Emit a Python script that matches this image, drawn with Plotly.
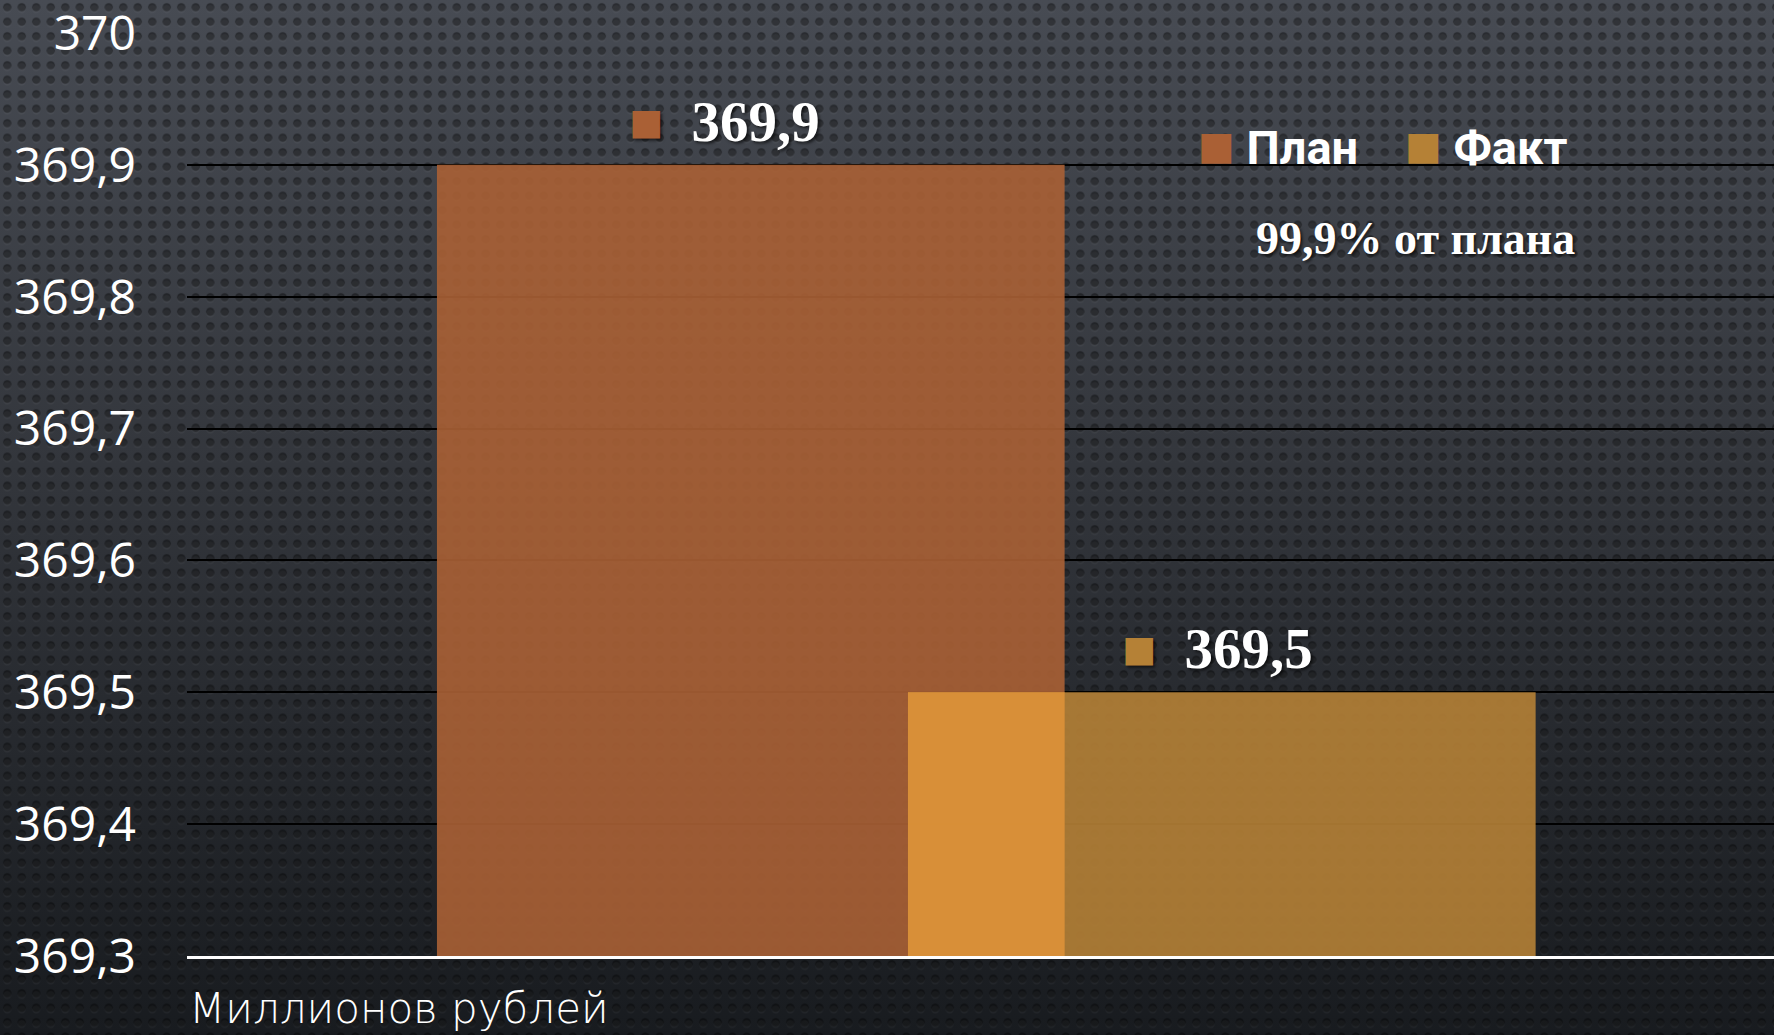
import base64
import plotly.graph_objects as go

# Data
categories = ["Миллионов рублей"]
series_names = ["План", "Факт"]
plan_values = [369.9]
fact_values = [369.5]
tick_vals = [369.3, 369.4, 369.5, 369.6, 369.7, 369.8, 369.9, 370.0]
tick_text = ["369,3", "369,4", "369,5", "369,6", "369,7", "369,8", "369,9", "370"]

PLAN_COLOR = "#AA6035"
FACT_COLOR = "#B58136"
OVERLAP_COLOR = "#DA9038"

W, H = 1774, 1035
M_L, M_R, M_T, M_B = 187, 0, 33, 79
PW, PH = W - M_L - M_R, H - M_T - M_B

BAR_W = 0.3955
OFFSETS = [-0.3425, -0.0457]
LABEL_XSHIFT = [-26, -4]


def fmt(v):
    return f"{v:.1f}".replace(".", ",")


# textured dark background (gradient + perforated dots)
svg = f"""<svg xmlns='http://www.w3.org/2000/svg' width='{W}' height='{H}'>
<defs>
<linearGradient id='g' x1='0' y1='0' x2='0' y2='1'>
<stop offset='0' stop-color='#474b53'/>
<stop offset='0.45' stop-color='#33363c'/>
<stop offset='1' stop-color='#181b1f'/>
</linearGradient>
<pattern id='p' width='14.5' height='14.5' patternUnits='userSpaceOnUse'>
<circle cx='7.25' cy='7.25' r='4.2' fill='#000000' fill-opacity='0.42'/>
<circle cx='7.25' cy='9' r='4' fill='#ffffff' fill-opacity='0.04'/>
</pattern>
</defs>
<rect width='100%' height='100%' fill='url(#g)'/>
<rect width='100%' height='100%' fill='url(#p)'/>
</svg>"""
bg_src = "data:image/svg+xml;base64," + base64.b64encode(svg.encode()).decode()

fig = go.Figure()

fig.add_trace(go.Bar(
    x=categories, y=plan_values, name=series_names[0],
    width=BAR_W, offset=OFFSETS[0],
    marker=dict(color=PLAN_COLOR, line=dict(width=0)), opacity=0.9,
    showlegend=False, hoverinfo="skip",
))
fig.add_trace(go.Bar(
    x=categories, y=fact_values, name=series_names[1],
    width=BAR_W, offset=OFFSETS[1],
    marker=dict(color=FACT_COLOR, line=dict(width=0)), opacity=0.9,
    showlegend=False, hoverinfo="skip",
))
# brighter zone where the two columns overlap
ov_width = OFFSETS[0] + BAR_W - OFFSETS[1]
fig.add_trace(go.Bar(
    x=categories, y=[min(p, f) for p, f in zip(plan_values, fact_values)],
    width=ov_width, offset=OFFSETS[1],
    marker=dict(color=OVERLAP_COLOR, line=dict(width=0)), opacity=0.93,
    showlegend=False, hoverinfo="skip",
))

# data labels
sq = "<span style='font-family:DejaVu Sans;font-size:{s}px;fill:{c};baseline-shift:{b}px'>■</span>"
series = [(plan_values, OFFSETS[0], PLAN_COLOR, LABEL_XSHIFT[0]),
          (fact_values, OFFSETS[1], FACT_COLOR, LABEL_XSHIFT[1])]
for vals, off, col, xs in series:
    for i, v in enumerate(vals):
        fig.add_annotation(
            x=i + off + BAR_W / 2, y=v, xref="x", yref="y",
            text=sq.format(s=36, c=col, b=7) + "&nbsp; " + fmt(v),
            showarrow=False, yanchor="bottom", yshift=10, xshift=xs,
            font=dict(family="Liberation Serif", size=57, color="white", weight="bold",
                      shadow="2px 2px 3px rgba(0,0,0,0.6)"),
        )

# legend
legend_text = (sq.format(s=39, c=PLAN_COLOR, b=5) + " " + series_names[0] + "    "
               + sq.format(s=39, c=FACT_COLOR, b=5) + " " + series_names[1])
fig.add_annotation(
    x=(1196 - M_L) / PW, y=1 - (147 - M_T) / PH, xref="paper", yref="paper",
    text=legend_text, showarrow=False, xanchor="left", yanchor="middle",
    font=dict(family="Roboto", size=47, color="white", weight="bold"),
)

# percent of plan
pct = fact_values[0] / plan_values[0] * 100
fig.add_annotation(
    x=(1415 - M_L) / PW, y=1 - (238 - M_T) / PH, xref="paper", yref="paper",
    text=f"{fmt(pct)}% от плана", showarrow=False, xanchor="center", yanchor="middle",
    font=dict(family="Liberation Serif", size=46, color="white", weight="bold",
              shadow="2px 2px 3px rgba(0,0,0,0.6)"),
)

# units caption
fig.add_annotation(
    x=0, y=-(1035 - 956) / PH, xref="paper", yref="paper",
    text="Миллионов рублей", showarrow=False, xanchor="left", yanchor="bottom",
    font=dict(family="DejaVu Sans", size=42, color="white", weight=300),
)

fig.update_layout(
    width=W, height=H,
    margin=dict(l=M_L, r=M_R, t=M_T, b=M_B, pad=0),
    barmode="overlay",
    paper_bgcolor="#2c2f34",
    plot_bgcolor="rgba(0,0,0,0)",
    showlegend=False,
    images=[dict(
        source=bg_src, xref="paper", yref="paper",
        x=-M_L / PW, y=1 + M_T / PH, sizex=W / PW, sizey=H / PH,
        xanchor="left", yanchor="top", sizing="stretch", layer="below",
    )],
    xaxis=dict(
        range=[-0.5, 0.5], showticklabels=False, showgrid=False, zeroline=False,
        showline=True, linecolor="white", linewidth=3, ticks="",
    ),
    yaxis=dict(
        range=[369.3, 370.0], tickvals=tick_vals, ticktext=tick_text,
        showgrid=True, gridcolor="#000000", gridwidth=2, zeroline=False,
        showline=False, ticks="", ticklabelstandoff=50, ticklabeloverflow="allow",
        tickfont=dict(family="Open Sans", size=48, color="white"),
    ),
)

fig.write_html("out.html", config={"displayModeBar": False},
               post_script="document.body.style.margin='0';")
